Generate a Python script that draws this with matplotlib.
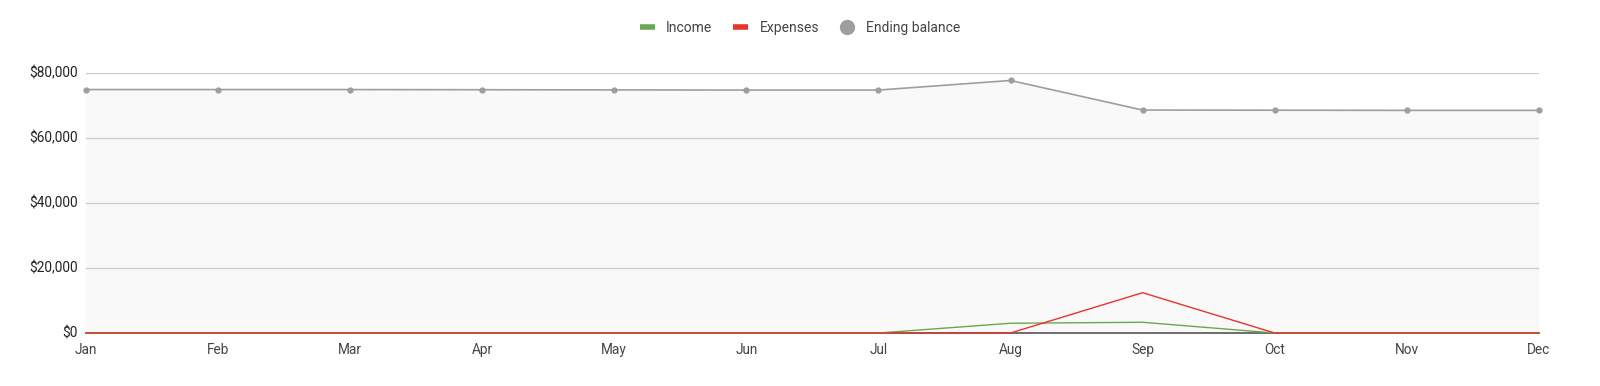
import numpy as np
import matplotlib.pyplot as plt
from matplotlib.lines import Line2D
from matplotlib.ticker import FuncFormatter

plt.rcParams['font.family'] = ['Roboto', 'DejaVu Sans']

months = ['Jan', 'Feb', 'Mar', 'Apr', 'May', 'Jun', 'Jul', 'Aug', 'Sep', 'Oct', 'Nov', 'Dec']
income = [0, 0, 0, 0, 0, 0, 0, 3000, 3300, 0, 0, 0]
expenses = [0, 0, 0, 0, 0, 0, 0, 0, 12400, 0, 0, 0]
balance = [74900, 74900, 74900, 74850, 74800, 74750, 74750, 77700, 68600, 68550, 68500, 68500]

green = '#6aa84f'
red = '#e8332c'
gray = '#9e9e9e'

fig = plt.figure(figsize=(16, 3.86), dpi=100)
ax = fig.add_axes([0.05375, 0.1373, 0.908, 0.6736])
x = np.arange(len(months))

ax.fill_between(x, 0, balance, color='#f9f9f9', lw=0, zorder=1)
for v in [20000, 40000, 60000, 80000]:
    ax.axhline(v, color='#cccccc', lw=1, zorder=2)
ax.axhline(0, color='#555555', lw=1.2, zorder=2, clip_on=False)

ax.plot(x, balance, color=gray, lw=1.2, marker='o', ms=3.5, zorder=4, clip_on=False)
ax.plot(x, income, color=green, lw=1, zorder=5, clip_on=False)
ax.plot(x, expenses, color=red, lw=1, zorder=6, clip_on=False)

ax.set_xlim(0, 11)
ax.set_ylim(0, 80000)
ax.set_xticks(x)
ax.set_xticklabels(months)
ax.set_yticks([0, 20000, 40000, 60000, 80000])
ax.yaxis.set_major_formatter(FuncFormatter(lambda v, p: '${:,.0f}'.format(v)))
ax.tick_params(axis='both', length=0, labelsize=9.8, colors='#222222')
ax.tick_params(axis='x', pad=7, colors='#444444')
ax.tick_params(axis='y', pad=6)
for s in ax.spines.values():
    s.set_visible(False)
for lab in ax.get_yticklabels():
    lab.set_verticalalignment('center')

handles = [Line2D([], [], color=green, lw=4, solid_capstyle='butt'),
           Line2D([], [], color=red, lw=4, solid_capstyle='butt'),
           Line2D([], [], color=gray, lw=0, marker='o', ms=10)]
leg = fig.legend(handles, ['Income', 'Expenses', 'Ending balance'], loc='center',
                 bbox_to_anchor=(0.5, 0.927), ncol=3, frameon=False, fontsize=10,
                 handlelength=1.1, columnspacing=1.5, handletextpad=0.8)
for t in leg.get_texts():
    t.set_color('#444444')

fig.savefig('out.png', dpi=100)
